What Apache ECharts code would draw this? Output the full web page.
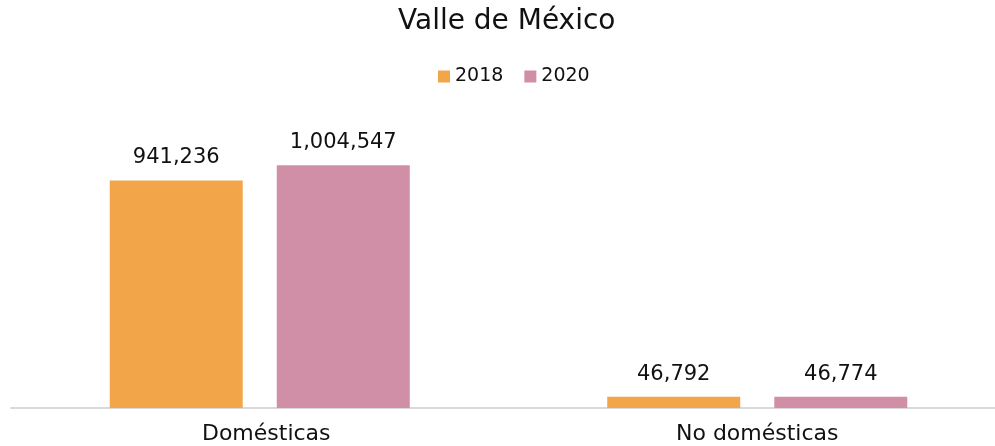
<!DOCTYPE html>
<html>
<head>
<meta charset="utf-8">
<script src="https://cdn.jsdelivr.net/npm/echarts@6/dist/echarts.min.js"></script>
<style>html,body{margin:0;padding:0;background:#fff;overflow:hidden}#c{width:1012px;height:446px}</style>
</head>
<body>
<div id="c"></div>
<script>
const categories = ['Domésticas', 'No domésticas'];
const seriesNames = ['2018', '2020'];
const values2018 = [941236, 46792];
const values2020 = [1004547, 46774];
const colors = ['#F3A549', '#D08FA6'];

const chart = echarts.init(document.getElementById('c'), null, {renderer: 'canvas'});
const fmt = p => p.value.toLocaleString('en-US');
const font = 'DejaVu Sans';
chart.setOption({
  animation: false,
  backgroundColor: '#fff',
  title: {
    text: 'Valle de México',
    left: 393, top: 3,
    textStyle: {fontFamily: font, fontSize: 28, fontWeight: 'normal', color: '#111'}
  },
  legend: {
    data: seriesNames,
    left: 433, top: 62,
    itemWidth: 12, itemHeight: 12, itemGap: 21,
    icon: 'rect',
    textStyle: {fontFamily: font, fontSize: 19, color: '#111'}
  },
  grid: {left: 11, width: 995, top: 118, bottom: 38, containLabel: false},
  xAxis: {
    type: 'category',
    data: categories,
    axisLine: {lineStyle: {color: '#D9D9D9', width: 2}},
    axisTick: {show: false},
    axisLabel: {
      fontFamily: font, fontSize: 22, color: '#111', margin: 15,
      formatter: (v, i) => i === 0 ? '{o|' + v + '}' : v,
      rich: {o: {fontFamily: font, fontSize: 22, color: '#111', padding: [0, 0, 0, 13]}}
    }
  },
  yAxis: {
    type: 'value', min: 0, max: 1200000,
    show: false, splitLine: {show: false}
  },
  series: [
    {name: seriesNames[0], type: 'bar', data: values2018, barWidth: 133, barGap: '25.6%',
     itemStyle: {color: colors[0]},
     label: {show: true, position: 'top', distance: 12, formatter: fmt, fontFamily: font, fontSize: 21, color: '#111'}},
    {name: seriesNames[1], type: 'bar', data: values2020, barWidth: 133, barGap: '25.6%',
     itemStyle: {color: colors[1]},
     label: {show: true, position: 'top', distance: 12, formatter: fmt, fontFamily: font, fontSize: 21, color: '#111'}}
  ]
});
</script>
</body>
</html>
